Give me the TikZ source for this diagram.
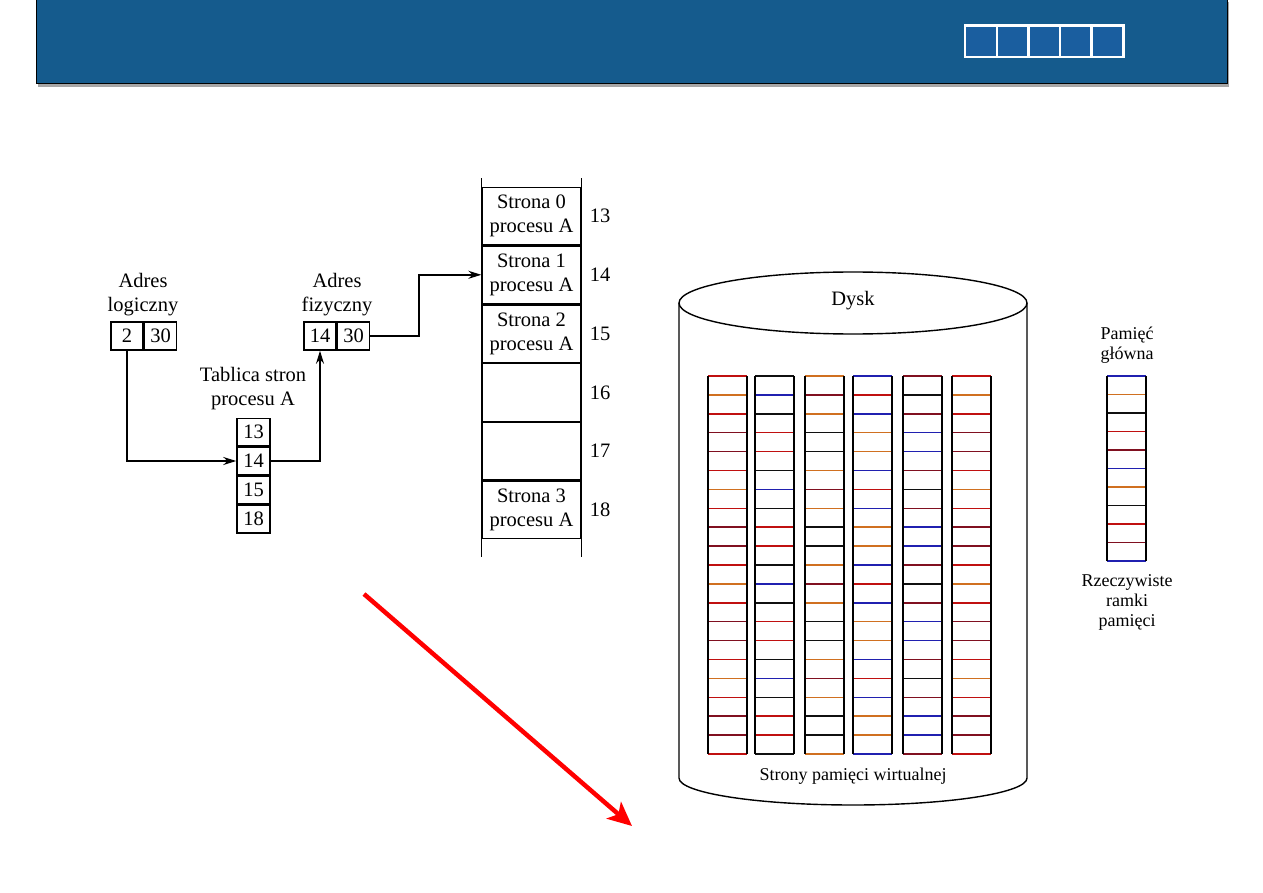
\documentclass[tikz,border=0pt]{standalone}
\usepackage{fontspec}
\setmainfont{Liberation Serif}
\usetikzlibrary{arrows.meta}
\definecolor{hdr}{HTML}{155B8D}
\definecolor{hdrcell}{HTML}{1A5E9F}
\definecolor{gc0}{HTML}{C01010}
\definecolor{gc1}{HTML}{2020B0}
\definecolor{gc2}{HTML}{101010}
\definecolor{gc3}{HTML}{801020}
\definecolor{gc4}{HTML}{D07020}
\tikzset{
  txt/.style={font=\fontsize{20.5}{24}\selectfont, align=center, inner sep=0pt},
  small/.style={font=\fontsize{18}{20}\selectfont, align=center, inner sep=0pt},
  cell/.style={draw, line width=1.5pt, minimum height=28pt, inner sep=0pt, font=\fontsize{20.5}{24}\selectfont},
  tcell/.style={draw, line width=1.5pt, minimum width=33pt, minimum height=27.5pt, inner sep=0pt, font=\fontsize{20.5}{24}\selectfont},
  frame/.style={draw, line width=1.3pt, minimum width=99pt, minimum height=57.5pt, inner sep=0pt, align=center, font=\fontsize{20.5}{24}\selectfont},
  conn/.style={line width=1.6pt, -{Stealth[length=13pt,width=8pt]}},
  hcell/.style={draw=white, line width=1.8pt, fill=hdrcell, minimum width=31pt, minimum height=31pt, inner sep=0pt},
  grid/.style={line width=1.5pt}
}
\begin{document}
\begin{tikzpicture}[x=1pt,y=-1pt]
\useasboundingbox (0,0) rectangle (1263,893);
\fill[white] (0,0) rectangle (1263,893);
% header
\fill[gray!70] (38,84) rectangle (1229,87);
\fill[gray!70] (1227,2) rectangle (1229,87);
\draw[fill=hdr, line width=1pt] (36,0) rectangle (1227,84);
\draw[white, line width=3pt] (965,26) rectangle (1123,57);
\foreach \i in {0,...,4} {
  \node[hcell] (h\i) at (981+\i*31.6,41.5) {};
}
% logical address
\node[txt] (lalab) at (143,295) {Adres\\logiczny};
\node[cell, minimum width=32pt] (la1) at (127,336) {2};
\node[cell, minimum width=32pt, anchor=west] (la2) at (la1.east) {30};
% physical address
\node[txt] (palab) at (337,295) {Adres\\fizyczny};
\node[cell, minimum width=32pt] (pa1) at (320,336) {14};
\node[cell, minimum width=32pt, anchor=west] (pa2) at (pa1.east) {30};
% page table
\node[txt] (ptlab) at (253,389) {Tablica stron\\procesu A};
\node[tcell] (t13) at (253.5,432) {13};
\node[tcell, anchor=north] (t14) at (t13.south) {14};
\node[tcell, anchor=north] (t15) at (t14.south) {15};
\node[tcell, anchor=north] (t18) at (t15.south) {18};
% physical memory
\node[frame] (m13) at (531.5,216) {Strona 0\\procesu A};
\node[frame, anchor=north] (m14) at (m13.south) {Strona 1\\procesu A};
\node[frame, anchor=north] (m15) at (m14.south) {Strona 2\\procesu A};
\node[frame, anchor=north] (m16) at (m15.south) {};
\node[frame, anchor=north] (m17) at (m16.south) {};
\node[frame, anchor=north] (m18) at (m17.south) {Strona 3\\procesu A};
\draw[line width=1.5pt] (m13.north west) -- ++(0,-9) (m13.north east) -- ++(0,-9);
\draw[line width=1.5pt] (m18.south west) -- ++(0,18) (m18.south east) -- ++(0,18);
\foreach \n in {13,...,18} {
  \node[txt, anchor=west] (n\n) at ([xshift=8pt]m\n.east) {\n};
}
% connectors
\coordinate (c1) at (la1.south |- t14.west);
\draw[conn] (la1.south) -- (c1) -- (t14.west);
\coordinate (c2) at (t14.east -| pa1.south);
\draw[conn] (t14.east) -- (c2) -- (pa1.south);
\coordinate (c3) at ([xshift=49pt]pa2.east);
\coordinate (c4) at (c3 |- m14.west);
\draw[conn] (pa2.east) -- (c3) -- (c4) -- (m14.west);
% red arrow
\coordinate (ra1) at (364,594);
\coordinate (ra2) at (632,826);
\draw[red, line width=4.5pt, -{Stealth[length=24pt,width=22pt,inset=6pt]}] (ra1) -- (ra2);
% disk
\draw[line width=1.4pt, fill=white] (679,303) -- (679,778) arc[start angle=180, end angle=0, x radius=174, y radius=27] -- (1027,303);
\draw[line width=1.4pt, fill=white] (853,303) ellipse[x radius=174, y radius=31];
\node[txt] (dysk) at (853,301) {Dysk};
\node[small] (virt) at (853,776) {Strony pamięci wirtualnej};
% virtual pages grid
\foreach \c/\x in {0/708,1/755,2/805,3/853,4/903,5/952} {
  \foreach \r in {0,...,20} {
    \pgfmathtruncatemacro\k{mod(\c*7+\r*3+\r*\r,5)}
    \draw[gc\k, line width=1.5pt] (\x,376+\r*18.9) -- ++(39,0);
  }
  \draw[grid] (\x,376) -- (\x,754) (\x+39,376) -- (\x+39,754);
}
% main memory
\node[small] (mmlab) at (1127,345) {Pamięć\\główna};
\foreach \r in {0,...,10} {
  \pgfmathtruncatemacro\k{mod(\r*3+1,5)}
  \draw[gc\k, line width=1.5pt] (1107,376+\r*18.5) -- ++(39,0);
}
\draw[grid] (1107,376) -- (1107,561) (1146,376) -- (1146,561);
\node[small] (rrlab) at (1127,602) {Rzeczywiste\\ramki\\pamięci};
\end{tikzpicture}
\end{document}
